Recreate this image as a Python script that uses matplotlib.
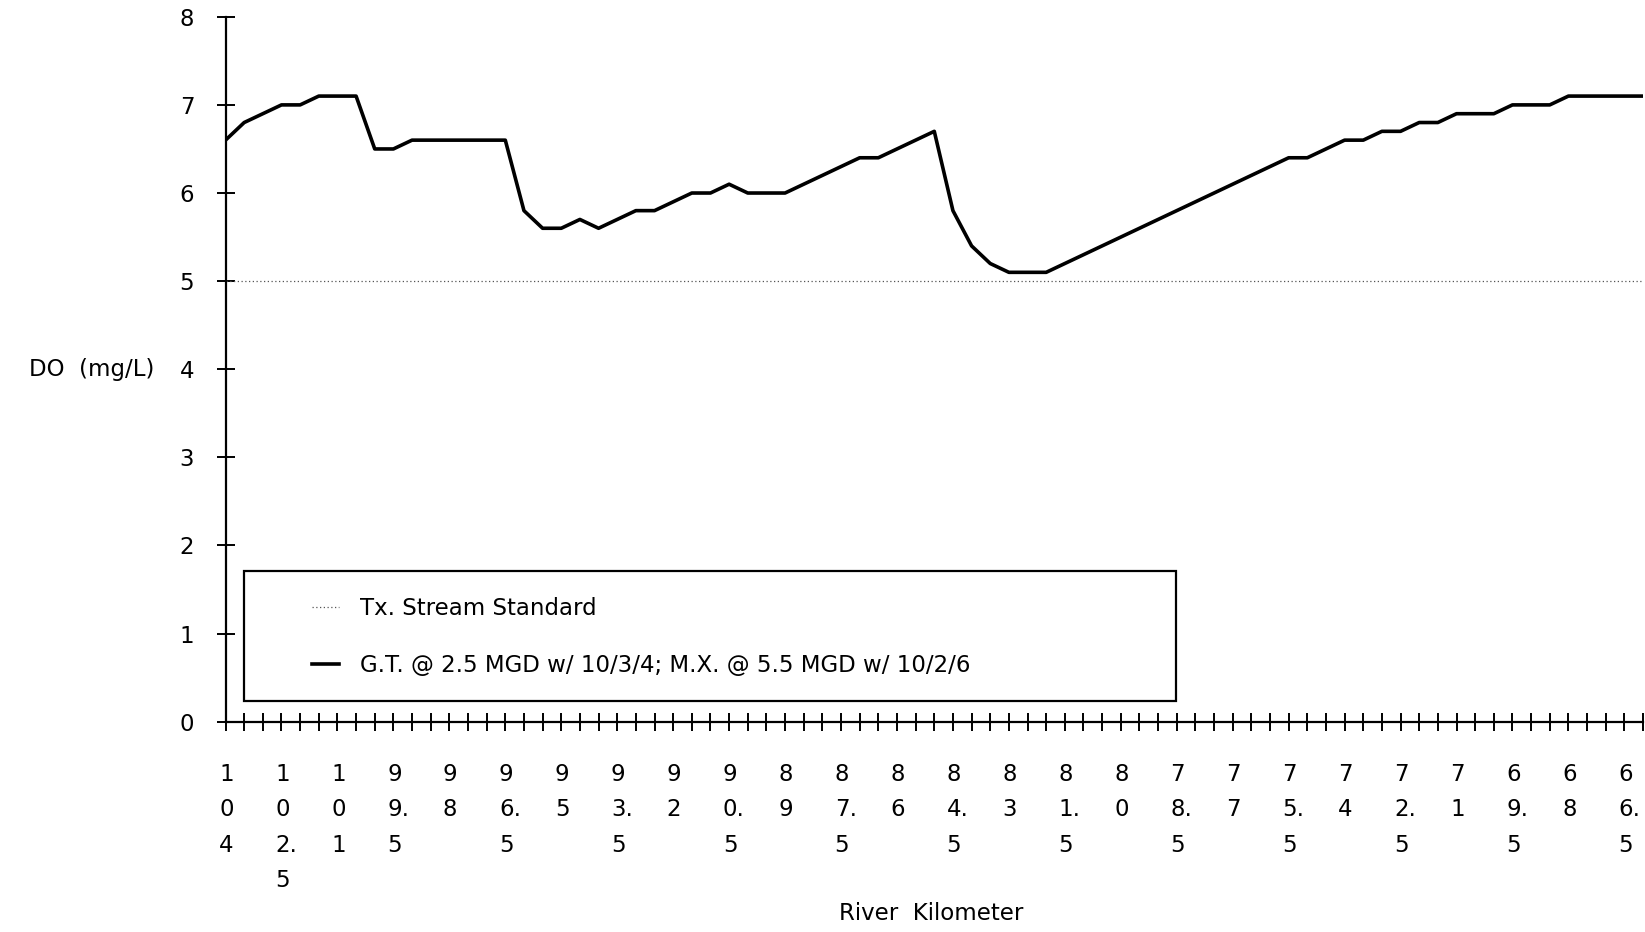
import numpy as np
import matplotlib
matplotlib.use("Agg")
import matplotlib.pyplot as plt
from matplotlib.patches import Rectangle

plt.rcParams['font.family'] = ['DejaVu Sans']

# river kilometer grid, upstream (104) to downstream (66), every 0.5 km
river_km = np.arange(104, 65.9, -0.5)

# modeled dissolved oxygen (mg/L) at each grid point
do_mgl = [6.6, 6.8, 6.9, 7.0, 7.0, 7.1, 7.1, 7.1, 6.5, 6.5,
          6.6, 6.6, 6.6, 6.6, 6.6, 6.6, 5.8, 5.6, 5.6, 5.7,
          5.6, 5.7, 5.8, 5.8, 5.9, 6.0, 6.0, 6.1, 6.0, 6.0,
          6.0, 6.1, 6.2, 6.3, 6.4, 6.4, 6.5, 6.6, 6.7, 5.8,
          5.4, 5.2, 5.1, 5.1, 5.1, 5.2, 5.3, 5.4, 5.5, 5.6,
          5.7, 5.8, 5.9, 6.0, 6.1, 6.2, 6.3, 6.4, 6.4, 6.5,
          6.6, 6.6, 6.7, 6.7, 6.8, 6.8, 6.9, 6.9, 6.9, 7.0,
          7.0, 7.0, 7.1, 7.1, 7.1, 7.1, 7.1]

standard_do = 5.0
label_km = np.arange(104, 66.2, -1.5)
y_ticks = [0, 1, 2, 3, 4, 5, 6, 7, 8]

std_label = "Tx. Stream Standard"
run_label = "G.T. @ 2.5 MGD w/ 10/3/4; M.X. @ 5.5 MGD w/ 10/2/6"

FS = 16.5

fig = plt.figure(figsize=(16.45, 9.32), dpi=100)
ax = fig.add_axes([0.1371, 0.2256, 0.8617, 0.7564])

ax.axhline(standard_do, color='#555555', lw=0.9, ls=(0, (1, 2)), label=std_label)
ax.plot(river_km, do_mgl, color='black', lw=2.6, label=run_label)

ax.set_xlim(104, 66)
ax.set_ylim(0, 8)
for s in ['top', 'right']:
    ax.spines[s].set_visible(False)
for s in ['left', 'bottom']:
    ax.spines[s].set_linewidth(1.6)

ax.set_xticks(river_km)
ax.set_xticklabels([])
ax.set_yticks(y_ticks)
ax.tick_params(axis='both', direction='inout', length=13, width=1.4, labelsize=FS)
ax.tick_params(axis='y', pad=16)

# stacked tick labels, one character per row (decimal point stays with its digit)
for km in label_km:
    rows = []
    for ch in f"{km:g}":
        if ch == '.':
            rows[-1] += '.'
        else:
            rows.append(ch)
    ax.annotate("\n".join(rows), xy=(km, 0), xycoords=('data', 'axes fraction'),
                xytext=(-4.6, -30), textcoords='offset points',
                ha='left', va='top', fontsize=FS, linespacing=1.67)

ax.annotate("DO  (mg/L)", xy=(0, 4), xycoords=('axes fraction', 'data'),
            xytext=(-51, 0), textcoords='offset points',
            ha='right', va='center', fontsize=FS)
ax.annotate("River  Kilometer", xy=(0.4977, 0), xycoords='axes fraction',
            xytext=(0, -138), textcoords='offset points',
            ha='center', va='center', fontsize=FS)

# legend box drawn separately, entries placed inside it
ax.add_patch(Rectangle((0.0133, 0.0298), 0.6573, 0.1844, transform=ax.transAxes,
                       fill=False, lw=1.6, ec='black'))
ax.legend(frameon=False, loc='center left', bbox_to_anchor=(0.0607, 0.1204),
          borderpad=0, borderaxespad=0, handlelength=1.2, handletextpad=0.9,
          labelspacing=1.5, fontsize=FS)

fig.savefig("out.png", dpi=100)
